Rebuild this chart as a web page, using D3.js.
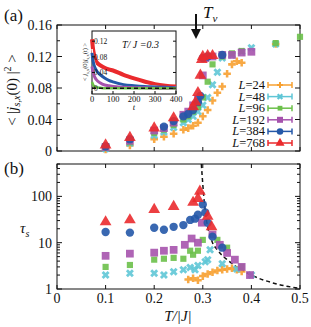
<!DOCTYPE html>
<html>
<head>
<meta charset="utf-8">
<script src="https://cdn.jsdelivr.net/npm/d3@7"></script>
<style>
  body { margin: 0; background: #fff; }
  text { font-family: "Liberation Serif", "DejaVu Serif", serif; fill: #111; }
</style>
</head>
<body>
<div id="visual"></div>
<script>
// series names / colours
const sizes = ["24", "48", "96", "192", "384", "768"];
const colors = ["#f7a030", "#5fc6d6", "#6cc04a", "#a653ad", "#2458a8", "#ea2a2d"];

// panel (a): <|j(0)|^2> vs T/|J|
const aT = [
  [0.1, 0.15, 0.2, 0.22, 0.24, 0.26, 0.27, 0.28, 0.29, 0.3, 0.31, 0.32, 0.33, 0.34, 0.35, 0.36, 0.37, 0.38, 0.45],
  [0.1, 0.15, 0.2, 0.22, 0.24, 0.26, 0.27, 0.28, 0.29, 0.3, 0.31, 0.32, 0.33, 0.34, 0.36, 0.38, 0.4, 0.45],
  [0.1, 0.15, 0.2, 0.22, 0.24, 0.26, 0.27, 0.28, 0.29, 0.3, 0.31, 0.32, 0.34, 0.36, 0.38, 0.45, 0.5],
  [0.1, 0.15, 0.2, 0.22, 0.24, 0.26, 0.27, 0.28, 0.29, 0.3, 0.305, 0.32, 0.34, 0.36, 0.38, 0.4],
  [0.1, 0.15, 0.22, 0.24, 0.26, 0.27, 0.28, 0.29, 0.295, 0.3, 0.31, 0.34],
  [0.1, 0.15, 0.2, 0.24, 0.28, 0.285, 0.29, 0.295, 0.298, 0.3, 0.31, 0.32]
];
const aV = [
  [0.002, 0.007, 0.015, 0.018, 0.022, 0.027, 0.029, 0.032, 0.036, 0.044, 0.052, 0.064, 0.074, 0.082, 0.098, 0.110, 0.114, 0.112, 0.136],
  [0.003, 0.010, 0.020, 0.024, 0.030, 0.036, 0.040, 0.044, 0.050, 0.058, 0.068, 0.084, 0.100, 0.118, 0.122, 0.126, 0.131, 0.136],
  [0.004, 0.011, 0.023, 0.027, 0.033, 0.040, 0.044, 0.050, 0.056, 0.068, 0.088, 0.110, 0.120, 0.124, 0.127, 0.137, 0.145],
  [0.005, 0.013, 0.026, 0.029, 0.036, 0.046, 0.050, 0.058, 0.066, 0.096, 0.118, 0.120, 0.122, 0.122, 0.125, 0.126],
  [0.006, 0.015, 0.031, 0.038, 0.044, 0.047, 0.052, 0.062, 0.070, 0.118, 0.120, 0.122],
  [0.0075, 0.017, 0.029, 0.042, 0.056, 0.062, 0.074, 0.096, 0.116, 0.120, 0.121, 0.121]
];

// panel (b): tau_s vs T/|J|
const bT = [
  [0.27, 0.28, 0.29, 0.3, 0.31, 0.32, 0.33, 0.34, 0.35, 0.36, 0.37, 0.38],
  [0.1, 0.15, 0.2, 0.22, 0.24, 0.26, 0.274, 0.284, 0.29, 0.305, 0.31, 0.315, 0.34, 0.37, 0.4],
  [0.1, 0.15, 0.2, 0.22, 0.24, 0.26, 0.274, 0.28, 0.29, 0.3, 0.33, 0.35, 0.38],
  [0.1, 0.15, 0.2, 0.22, 0.24, 0.263, 0.277, 0.29, 0.298, 0.32, 0.335, 0.35, 0.366, 0.38, 0.397],
  [0.1, 0.15, 0.2, 0.22, 0.24, 0.26, 0.274, 0.284, 0.29, 0.3, 0.305, 0.31, 0.32, 0.34],
  [0.1, 0.15, 0.2, 0.24, 0.28, 0.29, 0.294, 0.31, 0.318]
];
const bV = [
  [1.6, 1.7, 1.55, 1.9, 2.1, 2.3, 2.5, 2.6, 2.7, 2.8, 2.6, 2.4],
  [2.0, 2.2, 2.2, 2.0, 2.35, 2.6, 2.9, 2.6, 3.2, 3.9, 4.3, 7.0, 3.5, 2.7, 2.0],
  [3.0, 3.3, 4.3, 4.5, 4.7, 4.5, 6.7, 5.5, 6.7, 11.5, 11.5, 7.8, 3.0],
  [5.2, 5.8, 6.1, 6.7, 7.0, 9.0, 12.3, 10, 27, 15, 9, 6, 4.3, 3.0, 2.0],
  [17, 16.5, 21, 19, 22, 24, 31, 33, 40, 67, 45, 27, 13.5, 7.8],
  [28, 31, 52, 60, 74, 90, 128, 37, 22]
];
// dashed divergence curve
const fitT = [0.297, 0.299, 0.302, 0.306, 0.31, 0.315, 0.32, 0.33, 0.34, 0.35, 0.37, 0.4, 0.45, 0.5];
const fitV = [500, 250, 100, 40, 22, 14, 10, 7, 5.3, 4.3, 3.0, 2.0, 1.3, 1.03];

// inset: correlation vs t at T/|J|=0.3
const insetT = [0, 5, 10, 20, 40, 60, 80, 100, 150, 200, 250, 300, 350, 400];
const insetRed = [0.125, 0.10, 0.085, 0.068, 0.058, 0.052, 0.048, 0.045, 0.034, 0.025, 0.017, 0.010, 0.006, 0.004];
const insetWhite = [0.10, 0.08, 0.068, 0.054, 0.044, 0.038, 0.033, 0.029, 0.02, 0.013, 0.008, 0.005, 0.003, 0.002];
const insetBlue = [0.09, 0.07, 0.058, 0.046, 0.034, 0.026, 0.02, 0.016, 0.009, 0.006, 0.004, 0.003, 0.002, 0.001];
const insetPurple = [0.055, 0.04, 0.032, 0.022, 0.013, 0.008, 0.006, 0.004, 0.002, 0.001, 0.001, 0, 0, 0];
const insetGreen = [0.016, 0.009, 0.005, 0.002, 0.001, 0, 0, 0, 0, 0, 0, 0, 0, 0];

const aTicks = [0, 0.04, 0.08, 0.12, 0.16];
const bTicks = [1, 10, 100];
const xTicks = [0, 0.1, 0.2, 0.3, 0.4, 0.5];

const w = 311, h = 327;
const svg = d3.select("#visual").append("svg").attr("width", w).attr("height", h);

const x = d3.scaleLinear().domain([0, 0.5]).range([57, 300]);
const ya = d3.scaleLinear().domain([0, 0.16]).range([151, 25]);
const yb = d3.scaleLog().domain([1, 500]).range([289, 164]);

const shapes = [d3.symbolCross, d3.symbolCross, d3.symbolSquare, d3.symbolSquare, d3.symbolCircle, d3.symbolTriangle];
const shapeSize = [32, 40, 38, 60, 55, 60];
const rot = [0, 45, 0, 0, 0, 0];

function marks(g, Ts, Vs, ys) {
  Ts.forEach((ts, k) => {
    const pts = ts.map((t, i) => [t, Vs[k][i]]);
    g.selectAll(".m" + k).data(pts).enter().append("path")
      .attr("class", "m" + k)
      .attr("d", d3.symbol().type(shapes[k]).size(shapeSize[k]))
      .attr("transform", d => "translate(" + x(d[0]) + "," + ys(d[1]) + ") rotate(" + rot[k] + ")")
      .attr("fill", colors[k])
      .attr("opacity", 0.9);
  });
}

// frame with inward ticks on all sides
function frame(ys, yT, minorY) {
  const g = svg.append("g");
  const [y0, y1] = ys.range();
  g.append("rect").attr("x", 57).attr("y", y1).attr("width", 243).attr("height", y0 - y1)
    .attr("fill", "none").attr("stroke", "#111").attr("stroke-width", 1);
  xTicks.forEach(t => {
    g.append("line").attr("x1", x(t)).attr("x2", x(t)).attr("y1", y0).attr("y2", y0 - 4).attr("stroke", "#111");
    g.append("line").attr("x1", x(t)).attr("x2", x(t)).attr("y1", y1).attr("y2", y1 + 4).attr("stroke", "#111");
  });
  minorY.forEach(v => {
    const big = yT.includes(v);
    const len = big ? 5 : 3;
    g.append("line").attr("x1", 57).attr("x2", 57 + len).attr("y1", ys(v)).attr("y2", ys(v)).attr("stroke", "#111");
    g.append("line").attr("x1", 300).attr("x2", 300 - len).attr("y1", ys(v)).attr("y2", ys(v)).attr("stroke", "#111");
  });
  yT.forEach(v => {
    g.append("text").attr("x", 52).attr("y", ys(v) + 5).attr("text-anchor", "end")
      .attr("font-size", 14).text(v);
  });
  return g;
}

// ---------- panel (a)
const aMinor = d3.range(0, 0.161, 0.02).map(v => +v.toFixed(2));
frame(ya, aTicks, aMinor);
const ga = svg.append("g");
marks(ga, aT, aV, ya);

// inset
const ix = d3.scaleLinear().domain([0, 400]).range([92, 176]);
const iy = d3.scaleLinear().domain([-0.015, 0.146]).range([94, 31]);
svg.append("rect").attr("x", 92).attr("y", 31).attr("width", 84).attr("height", 63)
  .attr("fill", "#fff").attr("stroke", "#111").attr("stroke-width", 1);
const iline = d3.line().x((d, i) => ix(insetT[i])).y(d => iy(d)).curve(d3.curveMonotoneX);
const inset = svg.append("g");
inset.append("path").attr("d", iline(insetRed)).attr("fill", "none").attr("stroke", colors[5]).attr("stroke-width", 4);
inset.append("path").attr("d", iline(insetWhite)).attr("fill", "none").attr("stroke", "#fff").attr("stroke-width", 1.5);
inset.append("path").attr("d", iline(insetBlue)).attr("fill", "none").attr("stroke", colors[4]).attr("stroke-width", 3);
inset.append("path").attr("d", iline(insetPurple)).attr("fill", "none").attr("stroke", colors[3]).attr("stroke-width", 3);
inset.append("path").attr("d", iline(insetGreen)).attr("fill", "none").attr("stroke", colors[2]).attr("stroke-width", 2.5);
inset.append("line").attr("x1", ix(0)).attr("x2", ix(400)).attr("y1", iy(0)).attr("y2", iy(0))
  .attr("stroke", "#111").attr("stroke-width", 1.5).attr("stroke-dasharray", "4,3");
[0, 0.04, 0.08, 0.12].forEach(v => {
  inset.append("line").attr("x1", 92).attr("x2", 95).attr("y1", iy(v)).attr("y2", iy(v)).attr("stroke", "#111");
  inset.append("line").attr("x1", 176).attr("x2", 173).attr("y1", iy(v)).attr("y2", iy(v)).attr("stroke", "#111");
  inset.append("text").attr("x", 94).attr("y", iy(v) + 3).attr("text-anchor", "start").attr("font-size", 7.5).text(v);
});
[0, 100, 200, 300, 400].forEach(t => {
  inset.append("line").attr("x1", ix(t)).attr("x2", ix(t)).attr("y1", 94).attr("y2", 91).attr("stroke", "#111");
  inset.append("text").attr("x", ix(t)).attr("y", 102).attr("text-anchor", "middle").attr("font-size", 8.5).text(t);
});
inset.append("text").attr("x", 134).attr("y", 110).attr("text-anchor", "middle")
  .attr("font-size", 8.5).attr("font-style", "italic").text("t");
inset.append("text").attr("x", 122).attr("y", 48).attr("font-size", 10).attr("font-style", "italic").text("T/  J  =0.3");
const il = inset.append("text").attr("transform", "translate(87,62) rotate(-90)")
  .attr("text-anchor", "middle").attr("font-size", 6.5);
il.append("tspan").text("< ");
il.append("tspan").attr("font-style", "italic").text("j");
il.append("tspan").attr("font-size", 4.5).attr("dy", 2).text("s,x");
il.append("tspan").attr("dy", -2).text("(0)");
il.append("tspan").attr("font-style", "italic").text("j");
il.append("tspan").attr("font-size", 4.5).attr("dy", 2).text("s,x");
il.append("tspan").attr("dy", -2).text("(t) >");

// legend
sizes.forEach((s, k) => {
  const yy = 85 + k * 11.6;
  const lg = svg.append("g");
  lg.append("text").attr("x", 265).attr("y", yy + 4).attr("text-anchor", "end").attr("font-size", 12.5)
    .html('<tspan font-style="italic">L</tspan>=' + s);
  lg.append("line").attr("x1", 268).attr("x2", 292).attr("y1", yy).attr("y2", yy).attr("stroke", colors[k]).attr("stroke-width", 1.5);
  [268, 292].forEach(cx => lg.append("line").attr("x1", cx).attr("x2", cx).attr("y1", yy - 3).attr("y2", yy + 3)
    .attr("stroke", colors[k]).attr("stroke-width", 1.5));
  lg.append("path").attr("d", d3.symbol().type(shapes[k]).size(shapeSize[k] * 0.6))
    .attr("transform", "translate(280," + yy + ") rotate(" + rot[k] + ")").attr("fill", colors[k]);
});

// Tv arrow
svg.append("line").attr("x1", 196).attr("x2", 196).attr("y1", 14).attr("y2", 32).attr("stroke", "#111").attr("stroke-width", 2);
svg.append("path").attr("d", "M191,29 L201,29 L196,39 Z").attr("fill", "#111");
const tv = svg.append("text").attr("x", 203).attr("y", 18).attr("font-size", 17).attr("font-style", "italic");
tv.append("tspan").text("T");
tv.append("tspan").attr("font-size", 11).attr("dy", 4).text("v");

svg.append("text").attr("x", 4).attr("y", 21).attr("font-size", 17).text("(a)");
const ay = svg.append("text").attr("transform", "translate(17,90) rotate(-90)")
  .attr("text-anchor", "middle").attr("font-size", 15);
ay.append("tspan").text("< |");
ay.append("tspan").attr("font-style", "italic").text("j");
ay.append("tspan").attr("font-style", "italic").attr("font-size", 10).attr("dy", 3).text("s,x");
ay.append("tspan").attr("dy", -3).text("(0) |");
ay.append("tspan").attr("font-size", 10).attr("dy", -6).text("2");
ay.append("tspan").attr("dy", 6).text(" >");

// ---------- panel (b)
const bMinor = [];
[1, 10, 100].forEach(d => d3.range(1, 10).forEach(m => { if (d * m <= 500) bMinor.push(d * m); }));
frame(yb, bTicks, bMinor);
const gb = svg.append("g");
gb.append("path").datum(fitT.map((t, i) => [t, fitV[i]]))
  .attr("d", d3.line().x(d => x(d[0])).y(d => yb(d[1])).curve(d3.curveMonotoneX))
  .attr("fill", "none").attr("stroke", "#111").attr("stroke-width", 1.5).attr("stroke-dasharray", "4,3");
marks(gb, bT, bV, yb);

xTicks.forEach(t => {
  svg.append("text").attr("x", x(t)).attr("y", 303).attr("text-anchor", "middle").attr("font-size", 14).text(t);
});
svg.append("text").attr("x", 4).attr("y", 174).attr("font-size", 17).text("(b)");
svg.append("text").attr("x", 178).attr("y", 321).attr("text-anchor", "middle")
  .attr("font-size", 15).attr("font-style", "italic").text("T/|J|");
const by = svg.append("text").attr("x", 20).attr("y", 233).attr("font-size", 15).attr("font-style", "italic");
by.append("tspan").text("τ");
by.append("tspan").attr("font-size", 10).attr("dy", 4).text("s");
</script>
</body>
</html>
